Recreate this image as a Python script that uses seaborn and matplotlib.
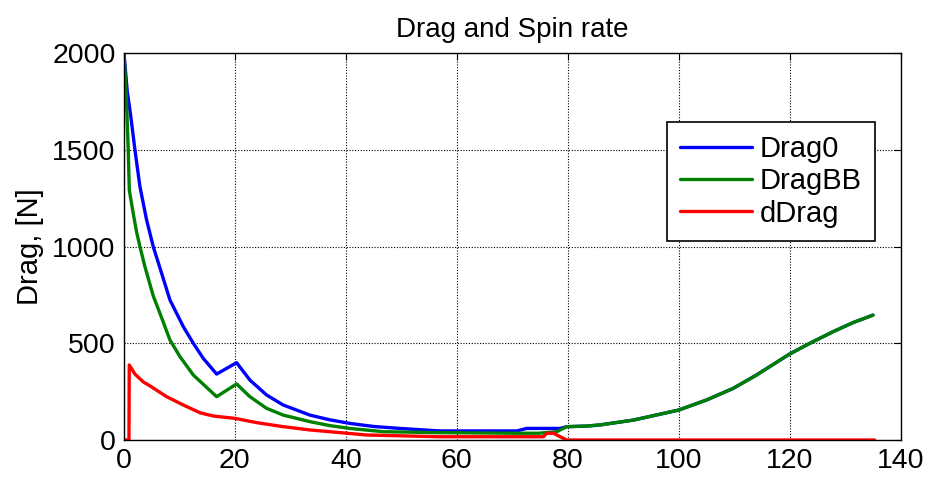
import numpy as np
import pandas as pd
import matplotlib
matplotlib.use("Agg")
import matplotlib.pyplot as plt
import seaborn as sns

# Values
drag0_t = [0, 0.6, 1.2, 1.98, 2.88, 4.08, 5.28, 6.79, 8.29, 10.7, 12.5, 14.3,
           16.7, 20.3, 22.7, 25.7, 28.7, 33.5, 37, 40.7, 45, 49.7, 56.9,
           70.8, 72.6, 78.6, 79.8]
drag0 = [2000, 1800, 1680, 1500, 1310, 1138, 1000, 862, 724, 586, 500, 422,
         341, 400, 310, 233, 181, 129, 105, 86, 70, 60, 47,
         47, 60, 60, 69]

dragbb_t = [0, 0.45, 0.77, 0.96, 1.68, 2.28, 2.88, 3.78, 5.28, 6.49, 8.29,
            10.1, 12.5, 16.7, 20.3, 22.7, 25.7, 28.7, 33.5, 37, 40.7, 46.7,
            56.9, 70.8, 74.7, 78, 79.8]
dragbb = [2000, 1760, 1500, 1293, 1170, 1075, 1000, 896, 745, 655, 517,
          431, 336, 224, 290, 224, 164, 129, 95, 75, 60, 43,
          38, 35, 35, 43, 69]

# after t=80 dDrag is zero, so Drag0 and DragBB share this part
tail_t = [83.4, 85.8, 91.8, 100, 105, 109.8, 114, 120, 123.6, 127.8, 131.4, 135]
tail = [72, 78, 103, 155, 207, 267, 336, 445, 500, 560, 607, 646]

ddrag_t = [0, 0.9, 0.95, 2, 3.5, 4.68, 7.69, 10.7, 13.7, 16.1, 20, 23.9, 28.7,
           33.5, 37.1, 43.7, 56.9, 75.6, 76.2, 77.4, 79.8, 135.3]
ddrag = [0, 0, 388, 340, 300, 280, 224, 181, 141, 124, 112, 90, 69,
         52, 43, 26, 17, 17, 35, 35, 0, 0]

series = {
    "Drag0": (drag0_t + tail_t, drag0 + tail, (0, 0, 1)),
    "DragBB": (dragbb_t + tail_t, dragbb + tail, (0, 0.5, 0)),
    "dDrag": (ddrag_t, ddrag, (1, 0, 0)),
}

sns.set_style("white")
plt.rcParams["font.family"] = ["Liberation Sans", "DejaVu Sans"]
plt.rcParams["text.color"] = "black"
plt.rcParams["axes.labelcolor"] = "black"

fig = plt.figure(figsize=(9.3, 4.8), dpi=100)
ax = fig.add_axes([0.1333, 0.0833, 0.8352, 0.8057])

for name, (t, d, col) in series.items():
    df = pd.DataFrame({"t": t, "drag": d})
    sns.lineplot(data=df, x="t", y="drag", color=col, linewidth=2.4,
                 label=name, sort=False, estimator=None, ax=ax)

ax.set_xlim(0, 140)
ax.set_ylim(0, 2000)
ax.set_xticks(np.arange(0, 141, 20))
ax.set_yticks(np.arange(0, 2001, 500))
ax.grid(True, linestyle=(0, (1, 1.5)), color="black", linewidth=0.8)
ax.tick_params(direction="in", length=5, width=0.8, top=True, right=True,
               labelsize=20.5, colors="black", pad=6)
for s in ax.spines.values():
    s.set_color("black")
    s.set_linewidth(1.0)

ax.set_title("Drag and Spin rate", fontsize=20, pad=12, color="black")
ax.set_xlabel("")
ax.set_ylabel("Drag, [N]", fontsize=21, labelpad=6)

leg = ax.legend(loc="upper right", bbox_to_anchor=(0.967, 0.823),
                borderaxespad=0, fontsize=21, frameon=True, fancybox=False,
                edgecolor="black", framealpha=1, handlelength=2.45,
                handletextpad=0.28, labelspacing=0.15, borderpad=0.45)
leg.get_frame().set_linewidth(1.2)
for txt in leg.get_texts():
    txt.set_color("black")

fig.savefig("out.png", dpi=100)
